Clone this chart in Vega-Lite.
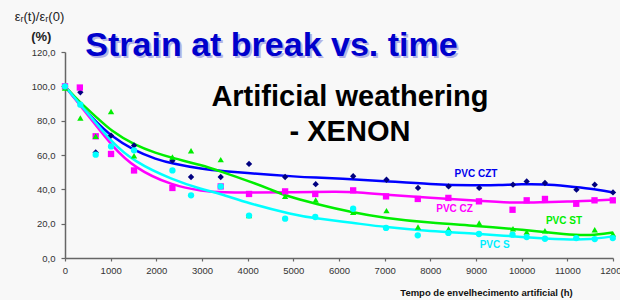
{
  "$schema": "https://vega.github.io/schema/vega-lite/v6.json",
  "width": 548,
  "height": 206,
  "autosize": {"type": "none"},
  "padding": {"left": 65, "top": 52, "right": 7, "bottom": 42},
  "background": "#f8f8f8",
  "config": {
    "view": {"stroke": null},
    "font": "Liberation Sans",
    "axis": {"grid": false, "domainColor": "#666666", "domainWidth": 1.5, "tickColor": "#666666", "tickWidth": 1.2, "tickSize": 3, "labelColor": "#333333", "labelFontSize": 9.5, "labelFont": "Liberation Sans", "labelFlush": false, "labelOverlap": false}
  },
  "datasets": {
    "points": [
      {"series": "PVC CZT", "t": 0, "v": 100}, {"series": "PVC CZT", "t": 336, "v": 96.5}, {"series": "PVC CZT", "t": 672, "v": 61.5}, {"series": "PVC CZT", "t": 1008, "v": 71.3}, {"series": "PVC CZT", "t": 1512, "v": 65.6}, {"series": "PVC CZT", "t": 2352, "v": 56.7}, {"series": "PVC CZT", "t": 2760, "v": 47.2}, {"series": "PVC CZT", "t": 3410, "v": 47.2}, {"series": "PVC CZT", "t": 4030, "v": 54.8}, {"series": "PVC CZT", "t": 4820, "v": 47.2}, {"series": "PVC CZT", "t": 5490, "v": 43}, {"series": "PVC CZT", "t": 6310, "v": 47.6}, {"series": "PVC CZT", "t": 7040, "v": 45.6}, {"series": "PVC CZT", "t": 7730, "v": 40.8}, {"series": "PVC CZT", "t": 8400, "v": 41.7}, {"series": "PVC CZT", "t": 9070, "v": 40.8}, {"series": "PVC CZT", "t": 9810, "v": 42.7}, {"series": "PVC CZT", "t": 10110, "v": 44.6}, {"series": "PVC CZT", "t": 10510, "v": 43.7}, {"series": "PVC CZT", "t": 11200, "v": 39.8}, {"series": "PVC CZT", "t": 11600, "v": 42.7}, {"series": "PVC CZT", "t": 12000, "v": 38.2},
      {"series": "PVC CZ", "t": 0, "v": 100}, {"series": "PVC CZ", "t": 325, "v": 99.3}, {"series": "PVC CZ", "t": 672, "v": 70.9}, {"series": "PVC CZ", "t": 1008, "v": 60.6}, {"series": "PVC CZ", "t": 1512, "v": 51}, {"series": "PVC CZ", "t": 2352, "v": 40.8}, {"series": "PVC CZ", "t": 3410, "v": 41.7}, {"series": "PVC CZ", "t": 4030, "v": 37.3}, {"series": "PVC CZ", "t": 4820, "v": 38.8}, {"series": "PVC CZ", "t": 5480, "v": 37.3}, {"series": "PVC CZ", "t": 6310, "v": 39.4}, {"series": "PVC CZ", "t": 7030, "v": 35.9}, {"series": "PVC CZ", "t": 7725, "v": 34.4}, {"series": "PVC CZ", "t": 8395, "v": 35}, {"series": "PVC CZ", "t": 9065, "v": 33}, {"series": "PVC CZ", "t": 9800, "v": 28.1}, {"series": "PVC CZ", "t": 10110, "v": 33.6}, {"series": "PVC CZ", "t": 10510, "v": 34.4}, {"series": "PVC CZ", "t": 11195, "v": 31.6}, {"series": "PVC CZ", "t": 11595, "v": 33.6}, {"series": "PVC CZ", "t": 11995, "v": 33.6},
      {"series": "PVC ST", "t": 0, "v": 99}, {"series": "PVC ST", "t": 336, "v": 81.6}, {"series": "PVC ST", "t": 672, "v": 70.9}, {"series": "PVC ST", "t": 1008, "v": 85.4}, {"series": "PVC ST", "t": 1512, "v": 59.6}, {"series": "PVC ST", "t": 2352, "v": 58.9}, {"series": "PVC ST", "t": 2760, "v": 62.5}, {"series": "PVC ST", "t": 3410, "v": 57.3}, {"series": "PVC ST", "t": 4030, "v": 24.7}, {"series": "PVC ST", "t": 4820, "v": 35.9}, {"series": "PVC ST", "t": 5490, "v": 33.8}, {"series": "PVC ST", "t": 6310, "v": 26.6}, {"series": "PVC ST", "t": 7040, "v": 27.6}, {"series": "PVC ST", "t": 7730, "v": 18.1}, {"series": "PVC ST", "t": 8400, "v": 16.9}, {"series": "PVC ST", "t": 9070, "v": 20.4}, {"series": "PVC ST", "t": 9810, "v": 17.1}, {"series": "PVC ST", "t": 10110, "v": 15.2}, {"series": "PVC ST", "t": 10510, "v": 15.9}, {"series": "PVC ST", "t": 11200, "v": 12.6}, {"series": "PVC ST", "t": 11600, "v": 16.5}, {"series": "PVC ST", "t": 12000, "v": 14},
      {"series": "PVC S", "t": 0, "v": 100}, {"series": "PVC S", "t": 336, "v": 89.3}, {"series": "PVC S", "t": 672, "v": 60.2}, {"series": "PVC S", "t": 1008, "v": 65}, {"series": "PVC S", "t": 1512, "v": 62.7}, {"series": "PVC S", "t": 2352, "v": 51}, {"series": "PVC S", "t": 2760, "v": 36.5}, {"series": "PVC S", "t": 3410, "v": 41.7}, {"series": "PVC S", "t": 4030, "v": 24.7}, {"series": "PVC S", "t": 4820, "v": 22.9}, {"series": "PVC S", "t": 5480, "v": 23.9}, {"series": "PVC S", "t": 6310, "v": 28.7}, {"series": "PVC S", "t": 7030, "v": 17.5}, {"series": "PVC S", "t": 7725, "v": 13.2}, {"series": "PVC S", "t": 8395, "v": 14.6}, {"series": "PVC S", "t": 9065, "v": 14}, {"series": "PVC S", "t": 9800, "v": 13.6}, {"series": "PVC S", "t": 10110, "v": 12.2}, {"series": "PVC S", "t": 10510, "v": 11.2}, {"series": "PVC S", "t": 11195, "v": 11.6}, {"series": "PVC S", "t": 11600, "v": 11}, {"series": "PVC S", "t": 11995, "v": 11.6}
    ],
    "trend": [
      {"series": "PVC CZT", "t": 0, "v": 100}, {"series": "PVC CZT", "t": 336, "v": 89}, {"series": "PVC CZT", "t": 672, "v": 79.5}, {"series": "PVC CZT", "t": 1008, "v": 71}, {"series": "PVC CZT", "t": 1512, "v": 62.5}, {"series": "PVC CZT", "t": 2000, "v": 57.5}, {"series": "PVC CZT", "t": 2352, "v": 55}, {"series": "PVC CZT", "t": 3000, "v": 51.8}, {"series": "PVC CZT", "t": 3500, "v": 50.5}, {"series": "PVC CZT", "t": 4000, "v": 49.5}, {"series": "PVC CZT", "t": 4500, "v": 48.5}, {"series": "PVC CZT", "t": 5000, "v": 47.5}, {"series": "PVC CZT", "t": 5500, "v": 46.8}, {"series": "PVC CZT", "t": 6000, "v": 46.3}, {"series": "PVC CZT", "t": 7000, "v": 44.8}, {"series": "PVC CZT", "t": 8000, "v": 43}, {"series": "PVC CZT", "t": 9000, "v": 42.2}, {"series": "PVC CZT", "t": 9500, "v": 42.4}, {"series": "PVC CZT", "t": 10000, "v": 43}, {"series": "PVC CZT", "t": 10500, "v": 43}, {"series": "PVC CZT", "t": 11000, "v": 41.8}, {"series": "PVC CZT", "t": 11500, "v": 40.5}, {"series": "PVC CZT", "t": 12000, "v": 38.2},
      {"series": "PVC CZ", "t": 0, "v": 100}, {"series": "PVC CZ", "t": 336, "v": 88.7}, {"series": "PVC CZ", "t": 672, "v": 77.5}, {"series": "PVC CZ", "t": 1008, "v": 66}, {"series": "PVC CZ", "t": 1512, "v": 52.4}, {"series": "PVC CZ", "t": 2352, "v": 42.1}, {"series": "PVC CZ", "t": 3000, "v": 39}, {"series": "PVC CZ", "t": 3500, "v": 38.2}, {"series": "PVC CZ", "t": 4000, "v": 38}, {"series": "PVC CZ", "t": 5000, "v": 38.4}, {"series": "PVC CZ", "t": 6000, "v": 38.6}, {"series": "PVC CZ", "t": 6300, "v": 38.5}, {"series": "PVC CZ", "t": 7000, "v": 36.9}, {"series": "PVC CZ", "t": 8000, "v": 35}, {"series": "PVC CZ", "t": 9000, "v": 33.4}, {"series": "PVC CZ", "t": 9800, "v": 32}, {"series": "PVC CZ", "t": 10500, "v": 32.6}, {"series": "PVC CZ", "t": 11000, "v": 32.8}, {"series": "PVC CZ", "t": 11500, "v": 33.4}, {"series": "PVC CZ", "t": 12000, "v": 34},
      {"series": "PVC ST", "t": 0, "v": 100}, {"series": "PVC ST", "t": 336, "v": 90.3}, {"series": "PVC ST", "t": 672, "v": 82.5}, {"series": "PVC ST", "t": 1008, "v": 74}, {"series": "PVC ST", "t": 1512, "v": 66}, {"series": "PVC ST", "t": 2000, "v": 61}, {"series": "PVC ST", "t": 2352, "v": 58.3}, {"series": "PVC ST", "t": 3000, "v": 54}, {"series": "PVC ST", "t": 3400, "v": 50.5}, {"series": "PVC ST", "t": 4000, "v": 45}, {"series": "PVC ST", "t": 4500, "v": 40}, {"series": "PVC ST", "t": 4800, "v": 36.5}, {"series": "PVC ST", "t": 5500, "v": 31.5}, {"series": "PVC ST", "t": 6300, "v": 26.5}, {"series": "PVC ST", "t": 7000, "v": 23.3}, {"series": "PVC ST", "t": 8000, "v": 20.4}, {"series": "PVC ST", "t": 9000, "v": 18.8}, {"series": "PVC ST", "t": 10000, "v": 16.5}, {"series": "PVC ST", "t": 11000, "v": 13.6}, {"series": "PVC ST", "t": 11500, "v": 13}, {"series": "PVC ST", "t": 12000, "v": 14.9},
      {"series": "PVC S", "t": 0, "v": 100}, {"series": "PVC S", "t": 336, "v": 89.3}, {"series": "PVC S", "t": 672, "v": 79}, {"series": "PVC S", "t": 1008, "v": 68}, {"series": "PVC S", "t": 1512, "v": 56}, {"series": "PVC S", "t": 2352, "v": 45.6}, {"series": "PVC S", "t": 3000, "v": 40}, {"series": "PVC S", "t": 3400, "v": 37.5}, {"series": "PVC S", "t": 4000, "v": 32}, {"series": "PVC S", "t": 5000, "v": 25.2}, {"series": "PVC S", "t": 5500, "v": 23}, {"series": "PVC S", "t": 6300, "v": 20.5}, {"series": "PVC S", "t": 7000, "v": 18}, {"series": "PVC S", "t": 8000, "v": 15.5}, {"series": "PVC S", "t": 9000, "v": 14.2}, {"series": "PVC S", "t": 10000, "v": 12.2}, {"series": "PVC S", "t": 11000, "v": 10.7}, {"series": "PVC S", "t": 11500, "v": 10.8}, {"series": "PVC S", "t": 12000, "v": 12.6}
    ],
    "seriesLabels": [
      {"series": "PVC CZT", "t": 9000, "v": 49.1, "label": "PVC CZT"},
      {"series": "PVC CZ", "t": 8530, "v": 28.7, "label": "PVC CZ"},
      {"series": "PVC ST", "t": 10926, "v": 21.3, "label": "PVC ST"},
      {"series": "PVC S", "t": 9409, "v": 7.3, "label": "PVC S"}
    ],
    "mainTitle": [{"t": 4522, "v": 117.9, "label": "Strain at break vs. time"}],
    "subTitle": [{"t": 6240, "v": 88.3, "label": "Artificial weathering"}, {"t": 6240, "v": 67.9, "label": "- XENON"}],
    "yTitle1": [{"t": -560, "v": 138.3, "label": "εᵣ(t)/εᵣ(0)"}],
    "yTitle2": [{"t": -520, "v": 126.2, "label": "(%)"}]
  },
  "encoding": {
    "x": {"field": "t", "type": "quantitative", "scale": {"domain": [0, 12000], "nice": false},
      "axis": {"values": [0, 1000, 2000, 3000, 4000, 5000, 6000, 7000, 8000, 9000, 10000, 11000, 12000], "format": "d", "labelPadding": 4,
        "title": "Tempo de envelhecimento artificial (h)", "titleFontSize": 9.5, "titleFontWeight": "bold", "titleColor": "#111111", "titleX": 421, "titleY": 34, "titleBaseline": "middle", "titleAlign": "center"}},
    "y": {"field": "v", "type": "quantitative", "scale": {"domain": [0, 120], "nice": false},
      "axis": {"values": [0, 20, 40, 60, 80, 100, 120], "labelExpr": "replace(format(datum.value, '.1f'), '.', ',')", "labelPadding": 6, "tickSize": 4, "title": null}}
  },
  "layer": [
    {"data": {"name": "trend"}, "mark": {"type": "line", "interpolate": "basis", "strokeWidth": 2.5},
      "encoding": {"detail": {"field": "series"}, "color": {"field": "series", "type": "nominal", "legend": null,
        "scale": {"domain": ["PVC CZT", "PVC CZ", "PVC ST", "PVC S"], "range": ["#0000ff", "#ff00ff", "#00ee00", "#00ffff"]}}}},
    {"data": {"name": "points"}, "mark": {"type": "point", "filled": true, "opacity": 1, "size": 40},
      "encoding": {"color": {"field": "series", "type": "nominal", "legend": null,
        "scale": {"domain": ["PVC CZT", "PVC CZ", "PVC ST", "PVC S"], "range": ["#000080", "#ff00ff", "#00ee00", "#00ffff"]}},
        "shape": {"field": "series", "type": "nominal", "legend": null,
        "scale": {"domain": ["PVC CZT", "PVC CZ", "PVC ST", "PVC S"], "range": ["diamond", "square", "triangle-up", "circle"]}}}},
    {"data": {"name": "seriesLabels"}, "mark": {"type": "text", "fontSize": 10, "fontWeight": "bold", "align": "center", "baseline": "middle", "font": "Liberation Sans"},
      "encoding": {"text": {"field": "label"}, "color": {"field": "series", "type": "nominal", "legend": null,
        "scale": {"domain": ["PVC CZT", "PVC CZ", "PVC ST", "PVC S"], "range": ["#0000ee", "#ff00ff", "#00ee00", "#00eeff"]}}}},
    {"data": {"name": "mainTitle"}, "mark": {"type": "text", "fontSize": 34, "fontWeight": "bold", "align": "center", "baseline": "alphabetic", "color": "#b4b4e6", "dx": 2, "dy": 2, "font": "Liberation Sans"},
      "encoding": {"text": {"field": "label"}}},
    {"data": {"name": "mainTitle"}, "mark": {"type": "text", "fontSize": 34, "fontWeight": "bold", "align": "center", "baseline": "alphabetic", "color": "#0000cc", "font": "Liberation Sans"},
      "encoding": {"text": {"field": "label"}}},
    {"data": {"name": "subTitle"}, "mark": {"type": "text", "fontSize": 29, "fontWeight": "bold", "align": "center", "baseline": "alphabetic", "color": "#000000", "font": "Liberation Sans"},
      "encoding": {"text": {"field": "label"}}},
    {"data": {"name": "yTitle1"}, "mark": {"type": "text", "fontSize": 13, "align": "center", "baseline": "alphabetic", "color": "#222222", "font": "Liberation Sans"},
      "encoding": {"text": {"field": "label"}}},
    {"data": {"name": "yTitle2"}, "mark": {"type": "text", "fontSize": 13, "fontWeight": "bold", "align": "center", "baseline": "alphabetic", "color": "#222222", "font": "Liberation Sans"},
      "encoding": {"text": {"field": "label"}}}
  ],
  "resolve": {"scale": {"color": "independent", "shape": "independent"}}
}
